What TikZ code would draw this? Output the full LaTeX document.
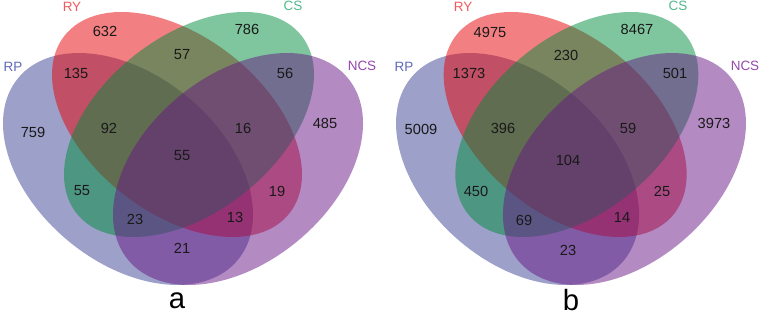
\documentclass[tikz,border=0pt]{standalone}
\usepackage{fontspec}
\setmainfont{Liberation Sans}
\definecolor{rpblue}{RGB}{59,65,145}
\definecolor{ryred}{RGB}{230,0,5}
\definecolor{csgreen}{RGB}{0,140,60}
\definecolor{ncspurple}{RGB}{103,23,133}
\definecolor{rplab}{RGB}{95,105,185}
\definecolor{rylab}{RGB}{240,90,95}
\definecolor{cslab}{RGB}{80,185,140}
\definecolor{ncslab}{RGB}{150,70,170}
\begin{document}
\begin{tikzpicture}[x=0.03cm, y=0.03cm,
    num/.style={font=\fontsize{12.5}{14}\selectfont, text=black!90},
    setname/.style={font=\fontsize{11.5}{14}\selectfont},
    panel/.style={font=\fontsize{25}{30}\selectfont, inner sep=0pt}]

    \useasboundingbox (0,0) rectangle (762,316);

    %----- ELLIPSE SIZES (px) -----
    \def\outA{142.6} \def\outB{93.5} \def\outT{39.6} \def\outD{55} \def\outY{147}
    \def\inA{143.3}  \def\inB{88}    \def\inT{38.3}  \def\inD{6}   \def\inY{191.5}

    %----- FOUR ELLIPSES, PANEL a AND PANEL b -----
    \foreach \cx/\sx in {183/1, 571/0.972} {
        \begin{scope}[shift={(\cx,0)}, xscale=\sx, fill opacity=0.5]
            \fill[rpblue, rotate around={-\outT:(-\outD,\outY)}]
                (-\outD,\outY) ellipse [x radius=\outA, y radius=\outB];
            \fill[ryred, rotate around={-\inT:(-\inD,\inY)}]
                (-\inD,\inY) ellipse [x radius=\inA, y radius=\inB];
            \fill[csgreen, rotate around={\inT:(\inD,\inY)}]
                (\inD,\inY) ellipse [x radius=\inA, y radius=\inB];
            \fill[ncspurple, rotate around={\outT:(\outD,\outY)}]
                (\outD,\outY) ellipse [x radius=\outA, y radius=\outB];
        \end{scope}
    }

    %----- SET NAMES -----
    \node[setname, text=rplab]  (aRP)  at (13,249)  {RP};
    \node[setname, text=rylab]  (aRY)  at (72,309)  {RY};
    \node[setname, text=cslab]  (aCS)  at (293,310) {CS};
    \node[setname, text=ncslab] (aNCS) at (362,250) {NCS};
    \node[setname, text=rplab]  (bRP)  at (404,249) {RP};
    \node[setname, text=rylab]  (bRY)  at (463,309) {RY};
    \node[setname, text=cslab]  (bCS)  at (678,310) {CS};
    \node[setname, text=ncslab] (bNCS) at (745,250) {NCS};

    %----- COUNTS, PANEL a -----
    \foreach \x/\y/\v/\n in {105/285/632/aY, 247/287/786/aC, 76/243/135/aPY,
        182/261/57/aYC, 285/243/56/aCN, 33/184/759/aP, 109/188/92/aPYC,
        243/188/16/aYCN, 325/193/485/aN, 182/160/55/aPYCN, 82/125/55/aPC,
        277/125/19/aYN, 135/97/23/aPCN, 235/99/13/aPYN, 182/68/21/aPN}
        \node[num] (\n) at (\x,\y) {\v};

    %----- COUNTS, PANEL b -----
    \foreach \x/\y/\v/\n in {490/284/4975/bY, 637/287/8467/bC, 469/243/1373/bPY,
        566/261/230/bYC, 675/243/501/bCN, 421/187/5009/bP, 503/188/396/bPYC,
        628/188/59/bYCN, 714/193/3973/bN, 568/156/104/bPYCN, 476/125/450/bPC,
        662/125/25/bYN, 524/96/69/bPCN, 622/99/14/bPYN, 568/66/23/bPN}
        \node[num] (\n) at (\x,\y) {\v};

    %----- PANEL LETTERS -----
    \node[panel] (pa) at (177,15) {a};
    \node[panel] (pb) at (571,16) {b};

\end{tikzpicture}
\end{document}
